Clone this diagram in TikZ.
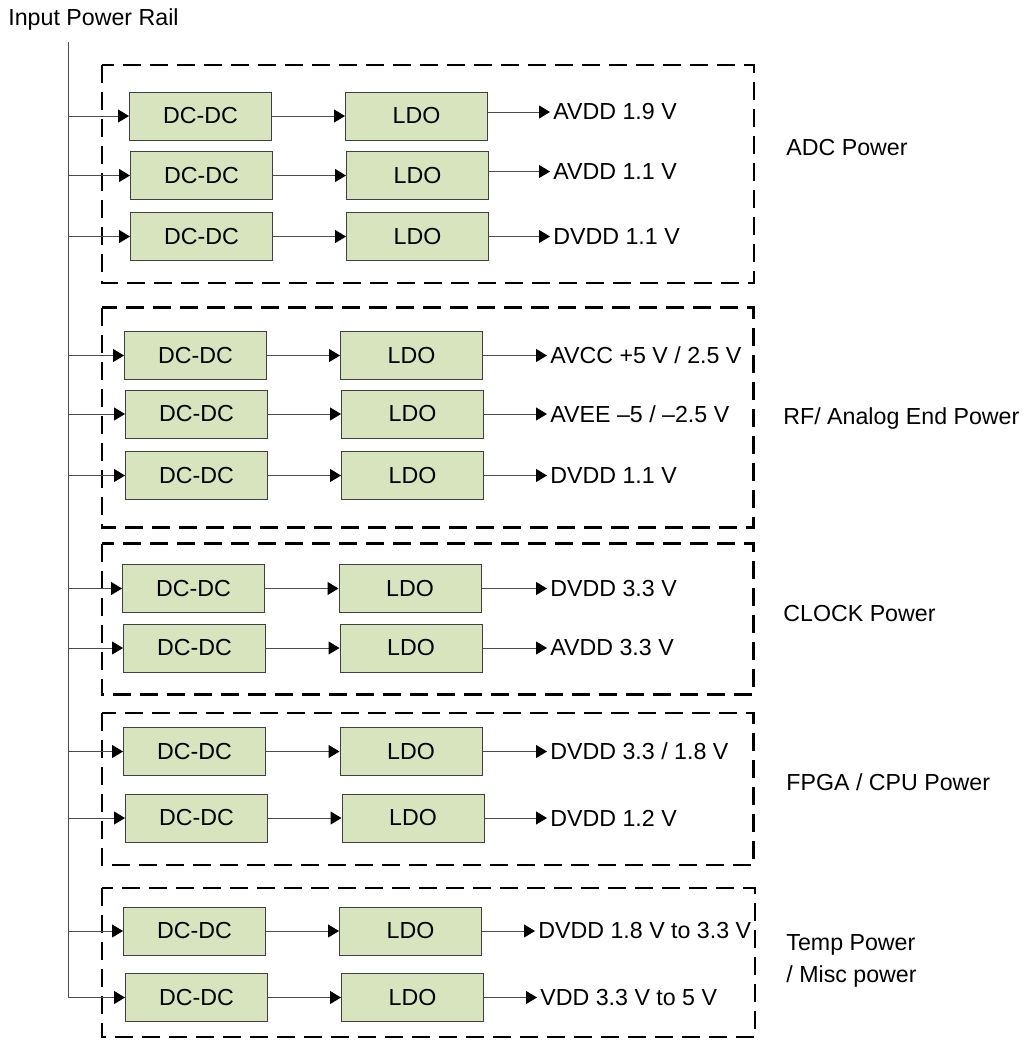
\documentclass[tikz,border=0pt]{standalone}
\usepackage{fontspec}
\setmainfont{Liberation Sans}
\usepackage{tikz}
\usetikzlibrary{arrows.meta}
\definecolor{blkfill}{HTML}{D7E4BD}

\begin{document}
\begin{tikzpicture}[
    x=0.5pt, y=-0.5pt,
    blk/.style={draw=black!75, fill=blkfill, line width=0.5pt,
                minimum width=71pt, minimum height=24pt, inner sep=0pt,
                font=\fontsize{11.6}{14}\selectfont},
    vout/.style={anchor=west, inner xsep=1.5pt, inner ysep=0pt,
                 font=\fontsize{11.6}{14}\selectfont},
    glbl/.style={anchor=west, align=left, inner xsep=0pt,
                 font=\fontsize{11.6}{16}\selectfont},
    grp/.style={draw=black, line width=1.3pt, dash pattern=on 9pt off 4.5pt},
    wire/.style={draw=black!70, line width=0.5pt},
    arr/.style={wire, -{Triangle[length=5.5pt, width=6.5pt, color=black]}}
  ]
  \useasboundingbox (0,0) rectangle (1023,1040);

  % --- Input rail ---
  \node[glbl] (railtxt) at (8,19) {Input Power Rail};
  \coordinate (rail) at (68.5,42);

  % --- Group frames ---
  \draw[grp] (102,65) rectangle (754,283);
  \draw[grp] (102,307.5) rectangle (753.5,527.5);
  \draw[grp] (102,543.5) rectangle (753.5,694.5);
  \draw[grp] (102,713) rectangle (753.5,865);
  \draw[grp] (102,888) rectangle (755,1037);
  \node[glbl] (adc) at (786,148) {ADC Power};
  \node[glbl] (rf) at (783,418) {RF/ Analog End Power};
  \node[glbl] (clk) at (783,614) {CLOCK Power};
  \node[glbl] (fpga) at (786,782) {FPGA / CPU Power};
  \node[glbl] (temp) at (786,961) {Temp Power\\/ Misc power};

  % --- ADC Power ---
  \node[blk] (dc1) at (200.5,116) {DC-DC};
  \node[blk] (ldo1) at (416.5,116) {LDO};
  \node[vout] (v1) at (550,112) {AVDD 1.9 V};
  \node[blk] (dc2) at (201.5,175.5) {DC-DC};
  \node[blk] (ldo2) at (417.5,175.5) {LDO};
  \node[vout] (v2) at (550,171.5) {AVDD 1.1 V};
  \node[blk] (dc3) at (201.5,236.5) {DC-DC};
  \node[blk] (ldo3) at (417.5,236.5) {LDO};
  \node[vout] (v3) at (550,236.5) {DVDD 1.1 V};

  % --- RF / analog end ---
  \node[blk] (dc4) at (195.5,355.5) {DC-DC};
  \node[blk] (ldo4) at (411.5,355.5) {LDO};
  \node[vout] (v4) at (547,355.5) {AVCC +5 V / 2.5 V};
  \node[blk] (dc5) at (196.5,414) {DC-DC};
  \node[blk] (ldo5) at (412.5,414) {LDO};
  \node[vout] (v5) at (547,414) {AVEE –5 / –2.5 V};
  \node[blk] (dc6) at (196.5,475.5) {DC-DC};
  \node[blk] (ldo6) at (412.5,475.5) {LDO};
  \node[vout] (v6) at (547,475.5) {DVDD 1.1 V};

  % --- Clock ---
  \node[blk] (dc7) at (193.5,588.5) {DC-DC};
  \node[blk] (ldo7) at (410,588.5) {LDO};
  \node[vout] (v7) at (547,588.5) {DVDD 3.3 V};
  \node[blk] (dc8) at (194.5,648) {DC-DC};
  \node[blk] (ldo8) at (411,648) {LDO};
  \node[vout] (v8) at (547,648) {AVDD 3.3 V};

  % --- FPGA / CPU ---
  \node[blk] (dc9) at (194.5,751.5) {DC-DC};
  \node[blk] (ldo9) at (411,751.5) {LDO};
  \node[vout] (v9) at (547,751.5) {DVDD 3.3 / 1.8 V};
  \node[blk] (dc10) at (196.5,818) {DC-DC};
  \node[blk] (ldo10) at (413,818) {LDO};
  \node[vout] (v10) at (547,818) {DVDD 1.2 V};

  % --- Temp / misc ---
  \node[blk] (dc11) at (194.5,931) {DC-DC};
  \node[blk] (ldo11) at (410.5,931) {LDO};
  \node[vout] (v11) at (535,931) {DVDD 1.8 V to 3.3 V};
  \node[blk] (dc12) at (196.5,997.5) {DC-DC};
  \node[blk] (ldo12) at (412.5,997.5) {LDO};
  \node[vout] (v12) at (537,997.5) {VDD 3.3 V to 5 V};

  % --- Wiring ---
  \draw[wire] (rail) -- (rail |- dc12.west);
  \draw[arr] (rail |- dc1.west) -- (dc1.west); \draw[arr] (dc1) -- (ldo1); \draw[arr] (ldo1.east |- v1.west) -- (v1.west);
  \draw[arr] (rail |- dc2.west) -- (dc2.west); \draw[arr] (dc2) -- (ldo2); \draw[arr] (ldo2.east |- v2.west) -- (v2.west);
  \draw[arr] (rail |- dc3.west) -- (dc3.west); \draw[arr] (dc3) -- (ldo3); \draw[arr] (ldo3) -- (v3.west);
  \draw[arr] (rail |- dc4.west) -- (dc4.west); \draw[arr] (dc4) -- (ldo4); \draw[arr] (ldo4) -- (v4.west);
  \draw[arr] (rail |- dc5.west) -- (dc5.west); \draw[arr] (dc5) -- (ldo5); \draw[arr] (ldo5) -- (v5.west);
  \draw[arr] (rail |- dc6.west) -- (dc6.west); \draw[arr] (dc6) -- (ldo6); \draw[arr] (ldo6) -- (v6.west);
  \draw[arr] (rail |- dc7.west) -- (dc7.west); \draw[arr] (dc7) -- (ldo7); \draw[arr] (ldo7) -- (v7.west);
  \draw[arr] (rail |- dc8.west) -- (dc8.west); \draw[arr] (dc8) -- (ldo8); \draw[arr] (ldo8) -- (v8.west);
  \draw[arr] (rail |- dc9.west) -- (dc9.west); \draw[arr] (dc9) -- (ldo9); \draw[arr] (ldo9) -- (v9.west);
  \draw[arr] (rail |- dc10.west) -- (dc10.west); \draw[arr] (dc10) -- (ldo10); \draw[arr] (ldo10) -- (v10.west);
  \draw[arr] (rail |- dc11.west) -- (dc11.west); \draw[arr] (dc11) -- (ldo11); \draw[arr] (ldo11) -- (v11.west);
  \draw[arr] (rail |- dc12.west) -- (dc12.west); \draw[arr] (dc12) -- (ldo12); \draw[arr] (ldo12) -- (v12.west);
\end{tikzpicture}
\end{document}
